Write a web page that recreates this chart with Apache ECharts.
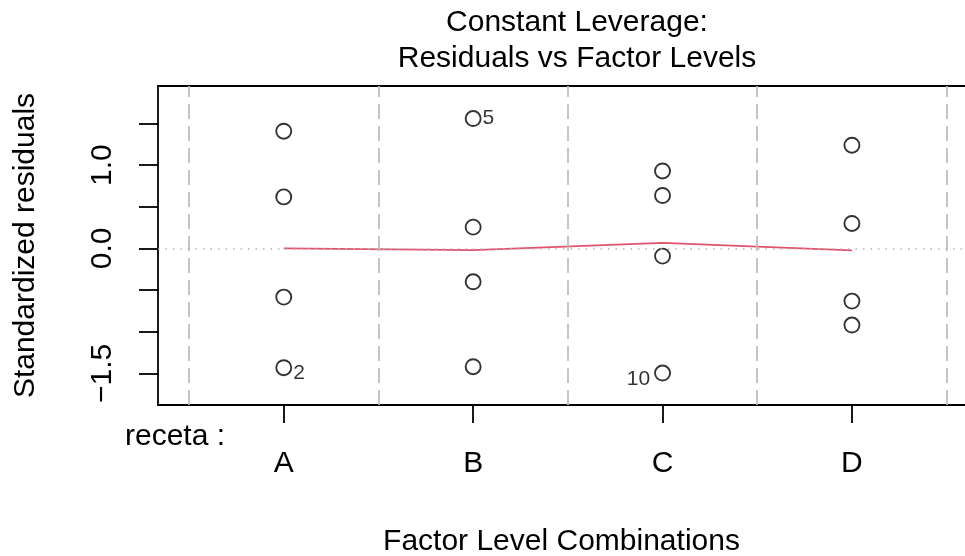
<!DOCTYPE html>
<html>
<head>
<meta charset="utf-8">
<title>Constant Leverage: Residuals vs Factor Levels</title>
<script src="https://cdn.jsdelivr.net/npm/echarts@6/dist/echarts.min.js"></script>
<style>
  html, body { margin: 0; padding: 0; background: #ffffff; }
  #chart { width: 965px; height: 556px; }
</style>
</head>
<body>
<div id="chart"></div>
<script>
// Factor levels of "receta" and the standardized residuals observed in each
const levels = ['A', 'B', 'C', 'D'];
const residA = [1.408, 0.619, -0.584, -1.432];
const residB = [1.560, 0.256, -0.400, -1.420];
const residC = [0.931, 0.636, -0.092, -1.496];
const residD = [1.240, 0.300, -0.632, -0.920];

// Smoothed trend through the level groups (red line)
const smoothValues = [0.000, -0.020, 0.067, -0.024];

// Observations flagged with their index
const flaggedLevel = ['A', 'B', 'C'];
const flaggedResid = [-1.432, 1.560, -1.496];
const flaggedId = ['2', '5', '10'];

// Axis ticks and labels
const yTicks = [-1.5, -1.0, -0.5, 0.0, 0.5, 1.0, 1.5];
const yLabels = [-1.5, 0.0, 1.0];
const factorName = 'receta :';

const FONT = '"Liberation Sans", Arial, Helvetica, sans-serif';
const residByLevel = [residA, residB, residC, residD];
const levelPos = levels.map((_, i) => i + 0.5);
const boundaries = levels.map((_, i) => i).concat([levels.length]);
const xMid = (levelPos[0] + levelPos[levelPos.length - 1]) / 2;
// the plotting region runs past the right edge of the canvas
const xMin = -0.164, xMax = 4.097;

const points = [];
residByLevel.forEach((arr, i) => {
  arr.forEach(v => {
    const k = flaggedResid.findIndex((r, j) => r === v && flaggedLevel[j] === levels[i]);
    const item = { value: [levelPos[i], v] };
    if (k >= 0) {
      const onLeft = levelPos[i] > xMid;
      item.label = {
        show: true,
        formatter: flaggedId[k],
        position: onLeft ? 'left' : 'right',
        distance: onLeft ? 4 : 1,
        offset: [0, v < 0 ? 6 : 0],
        color: '#000',
        fontSize: 21,
        fontFamily: FONT
      };
    }
    points.push(item);
  });
});

const smoothData = smoothValues.map((v, i) => [levelPos[i], v]);

const chart = echarts.init(document.getElementById('chart'), null, { renderer: 'canvas' });
chart.setOption({
  animation: false,
  backgroundColor: '#ffffff',
  title: {
    text: 'Constant Leverage:\nResiduals vs Factor Levels',
    left: 572,
    textAlign: 'center',
    top: 0,
    textStyle: {
      fontFamily: FONT, fontSize: 30, fontWeight: 'normal', color: '#000', lineHeight: 36
    }
  },
  grid: {
    left: 158, top: 86, bottom: 151, right: 0,
    show: false,
    containLabel: false,
    outerBoundsMode: 'none'
  },
  xAxis: [{
    type: 'value',
    min: xMin, max: xMax,
    name: 'Factor Level Combinations',
    nameLocation: 'middle',
    nameGap: 122,
    nameTextStyle: { fontFamily: FONT, fontSize: 30, color: '#000' },
    axisLine: { show: true, onZero: false, lineStyle: { color: '#000', width: 1.8 } },
    splitLine: { show: false },
    axisTick: {
      show: true, length: 18, customValues: levelPos,
      lineStyle: { color: '#000', width: 1.8 }
    },
    axisLabel: {
      customValues: levelPos,
      margin: 44,
      fontFamily: FONT, fontSize: 30, color: '#000',
      formatter: v => levels[Math.round(v - 0.5)]
    }
  }, {
    type: 'value',
    position: 'top',
    min: xMin, max: xMax,
    axisLine: { show: true, onZero: false, lineStyle: { color: '#000', width: 1.8 } },
    axisTick: { show: false },
    axisLabel: { show: false },
    splitLine: { show: false }
  }],
  yAxis: {
    type: 'value',
    min: -1.880, max: 1.951,
    name: 'Standardized residuals',
    nameLocation: 'middle',
    nameRotate: 90,
    nameGap: 117,
    nameTextStyle: { fontFamily: FONT, fontSize: 30, color: '#000' },
    axisLine: { show: true, onZero: false, lineStyle: { color: '#000', width: 1.8 } },
    splitLine: { show: false },
    axisTick: {
      show: true, length: 19, customValues: yTicks,
      lineStyle: { color: '#000', width: 1.8 }
    },
    axisLabel: {
      customValues: yLabels,
      rotate: 90,
      margin: 40,
      fontFamily: FONT, fontSize: 30, color: '#000',
      formatter: v => v.toFixed(1).replace('-', '\u2212')
    }
  },
  graphic: [{
    type: 'text',
    left: 125,
    top: 422,
    style: { text: factorName, fontFamily: FONT, fontSize: 30, fill: '#000' }
  }],
  series: [
    {
      type: 'line',
      data: smoothData,
      showSymbol: false,
      symbol: 'none',
      lineStyle: { color: '#DF536B', width: 1.8 },
      z: 3,
      markLine: {
        silent: true,
        symbol: 'none',
        label: { show: false },
        data: boundaries.map(b => ({
          xAxis: b,
          lineStyle: { color: '#BEBEBE', width: 1.8, type: [15, 7] }
        })).concat([{
          yAxis: 0,
          lineStyle: { color: '#B4B4B4', width: 1.5, type: [1.5, 6] }
        }])
      }
    },
    {
      type: 'scatter',
      data: points,
      symbol: 'circle',
      symbolSize: 15,
      itemStyle: { color: 'rgba(0,0,0,0)', borderColor: '#000', borderWidth: 1.9 },
      z: 4
    }
  ]
});
</script>
</body>
</html>
